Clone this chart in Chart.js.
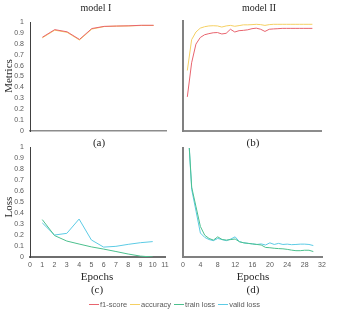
<!DOCTYPE html>
<html>
<head>
<meta charset="utf-8">
<script src="https://cdn.jsdelivr.net/npm/chart.js@4/dist/chart.umd.min.js"></script>
<style>
  html, body { margin: 0; padding: 0; background: #fff; }
  #fig { position: relative; width: 350px; height: 311px; overflow: hidden; }
  canvas.c { position: absolute; left: 0; top: 0; }
  .serif { position: absolute; font-family: "Liberation Serif", "DejaVu Serif", serif; color: #262626; white-space: nowrap; }
  .rot { transform: translate(-50%, -50%) rotate(-90deg); }
  .ctr { transform: translate(-50%, -50%); }
  #legend { position: absolute; left: 0; top: 300px; width: 352px; display: flex; justify-content: center; font-family: "Liberation Sans", Arial, sans-serif; font-size: 7.5px; color: #595959; }
  #legend span.item { display: inline-flex; align-items: center; margin-right: 3px; }
  #legend span.sw { display: inline-block; width: 10px; height: 0; border-top: 1.2px solid #999; margin-right: 1px; }
</style>
</head>
<body>
<div id="fig">
  <canvas class="c" id="ca" width="350" height="311"></canvas>
  <canvas class="c" id="cb" width="350" height="311"></canvas>
  <canvas class="c" id="cc" width="350" height="311"></canvas>
  <canvas class="c" id="cd" width="350" height="311"></canvas>
  <div class="serif ctr" style="left:96px;top:7px;font-size:10px;">model I</div>
  <div class="serif ctr" style="left:259px;top:7px;font-size:10px;">model II</div>
  <div class="serif rot" style="left:8px;top:76px;font-size:11px;">Metrics</div>
  <div class="serif rot" style="left:8px;top:207px;font-size:11px;">Loss</div>
  <div class="serif ctr" style="left:99px;top:142px;font-size:11px;">(a)</div>
  <div class="serif ctr" style="left:253px;top:142px;font-size:11px;">(b)</div>
  <div class="serif ctr" style="left:97px;top:276px;font-size:11px;">Epochs</div>
  <div class="serif ctr" style="left:253px;top:276px;font-size:11px;">Epochs</div>
  <div class="serif ctr" style="left:97px;top:289px;font-size:11px;">(c)</div>
  <div class="serif ctr" style="left:253px;top:289px;font-size:11px;">(d)</div>
  <div id="legend"></div>
</div>
<script>
// ---------- data ----------
const seriesNames = ["f1-score", "accuracy", "train loss", "valid loss"];
const seriesColors = ["#E8646E", "#F5D063", "#4CC08E", "#5CCBE5"];

const epochsI = [1, 2, 3, 4, 5, 6, 7, 8, 9, 10];
const f1I = [0.86, 0.93, 0.91, 0.84, 0.94, 0.96, 0.963, 0.965, 0.97, 0.97];
const accI = [0.855, 0.925, 0.905, 0.835, 0.935, 0.958, 0.962, 0.964, 0.968, 0.968];
const trainLossI = [0.34, 0.195, 0.145, 0.118, 0.092, 0.072, 0.05, 0.027, 0.008, 0.0];
const validLossI = [0.31, 0.2, 0.215, 0.345, 0.155, 0.09, 0.097, 0.115, 0.13, 0.14];

const epochsII = [1, 2, 3, 4, 5, 6, 7, 8, 9, 10, 11, 12, 13, 14, 15, 16, 17, 18, 19, 20, 21, 22, 23, 24, 25, 26, 27, 28, 29, 30];
const f1II = [0.31, 0.62, 0.79, 0.85, 0.875, 0.885, 0.893, 0.895, 0.882, 0.888, 0.925, 0.9, 0.912, 0.915, 0.92, 0.93, 0.935, 0.925, 0.905, 0.925, 0.928, 0.93, 0.933, 0.933, 0.933, 0.933, 0.933, 0.933, 0.933, 0.933];
const accII = [0.55, 0.83, 0.9, 0.935, 0.948, 0.955, 0.957, 0.955, 0.945, 0.955, 0.96, 0.952, 0.958, 0.965, 0.965, 0.967, 0.97, 0.967, 0.96, 0.967, 0.97, 0.97, 0.97, 0.97, 0.97, 0.97, 0.97, 0.97, 0.97, 0.97];
const trainLossII = [1.3, 0.64, 0.46, 0.28, 0.2, 0.17, 0.155, 0.185, 0.16, 0.155, 0.16, 0.165, 0.14, 0.13, 0.125, 0.12, 0.115, 0.11, 0.088, 0.085, 0.08, 0.077, 0.075, 0.07, 0.063, 0.058, 0.058, 0.062, 0.062, 0.05];
const validLossII = [1.3, 0.62, 0.42, 0.22, 0.18, 0.16, 0.15, 0.17, 0.16, 0.15, 0.165, 0.185, 0.14, 0.13, 0.125, 0.12, 0.115, 0.12, 0.11, 0.13, 0.115, 0.125, 0.115, 0.118, 0.113, 0.115, 0.118, 0.118, 0.115, 0.105];

const yTickLabels = ["0", "0.1", "0.2", "0.3", "0.4", "0.5", "0.6", "0.7", "0.8", "0.9", "1"];
const xTickLabelsI = ["0", "1", "2", "3", "4", "5", "6", "7", "8", "9", "10", "11"];
const xTickLabelsII = ["0", "4", "8", "12", "16", "20", "24", "28", "32"];

// ---------- helpers ----------
const tickFont = { family: "'Liberation Sans', Arial, sans-serif", size: 7 };
const tickColor = "#595959";

function pts(xs, ys) { return xs.map((x, i) => ({ x: x, y: ys[i] })); }

function ds(name, xs, ys) {
  const idx = seriesNames.indexOf(name);
  return {
    label: name,
    data: pts(xs, ys),
    borderColor: seriesColors[idx],
    backgroundColor: seriesColors[idx],
    borderWidth: 1,
    pointRadius: 0,
    tension: 0,
    fill: false
  };
}

function makeChart(id, datasets, cfg) {
  const xLabels = cfg.xLabels;
  new Chart(document.getElementById(id), {
    type: "line",
    data: { datasets: datasets },
    options: {
      responsive: false,
      animation: false,
      devicePixelRatio: 1,
      layout: { padding: cfg.padding },
      plugins: { legend: { display: false }, tooltip: { enabled: false }, title: { display: false } },
      scales: {
        x: {
          type: "linear",
          min: cfg.xMin, max: cfg.xMax,
          grid: { display: false, drawTicks: false },
          border: { display: true, color: cfg.xBorderColor, width: cfg.xBorderWidth },
          ticks: {
            display: !!xLabels,
            stepSize: cfg.xStep,
            autoSkip: false,
            maxRotation: 0,
            padding: 4,
            font: tickFont,
            color: tickColor,
            callback: function (v, i) { return xLabels ? xLabels[i] : ""; }
          },
          afterFit: function (s) { s.height = cfg.xHeight; }
        },
        y: {
          type: "linear",
          min: 0, max: 1,
          grid: { display: false, drawTicks: false },
          border: { display: true, color: cfg.yBorderColor, width: cfg.yBorderWidth },
          ticks: {
            display: !!cfg.yLabels,
            stepSize: 0.1,
            autoSkip: false,
            padding: 6,
            font: tickFont,
            color: tickColor,
            callback: function (v, i) { return cfg.yLabels ? cfg.yLabels[i] : ""; }
          },
          afterFit: function (s) { s.width = cfg.yWidth; }
        }
      }
    }
  });
}

// (a) model I metrics
makeChart("ca", [ds("f1-score", epochsI, f1I), ds("accuracy", epochsI, accI)], {
  padding: { left: 0, top: 22, right: 184, bottom: 180 },
  xMin: 0, xMax: 11, xStep: 1, xLabels: null, xHeight: 0,
  yLabels: yTickLabels, yWidth: 30,
  xBorderColor: "#8c8c8c", xBorderWidth: 1.5,
  yBorderColor: "#404040", yBorderWidth: 1
});

// (b) model II metrics
makeChart("cb", [ds("f1-score", epochsII, f1II), ds("accuracy", epochsII, accII)], {
  padding: { left: 183, top: 21, right: 29, bottom: 180 },
  xMin: 0, xMax: 32, xStep: 4, xLabels: null, xHeight: 0,
  yLabels: null, yWidth: 0,
  xBorderColor: "#8c8c8c", xBorderWidth: 2,
  yBorderColor: "#808080", yBorderWidth: 2
});

// (c) model I loss
makeChart("cc", [ds("train loss", epochsI, trainLossI), ds("valid loss", epochsI, validLossI)], {
  padding: { left: 0, top: 147, right: 185, bottom: 42 },
  xMin: 0, xMax: 11, xStep: 1, xLabels: xTickLabelsI, xHeight: 12,
  yLabels: yTickLabels, yWidth: 30,
  xBorderColor: "#6e6e6e", xBorderWidth: 2,
  yBorderColor: "#404040", yBorderWidth: 1
});

// (d) model II loss
makeChart("cd", [ds("train loss", epochsII, trainLossII), ds("valid loss", epochsII, validLossII)], {
  padding: { left: 183, top: 148, right: 28, bottom: 42 },
  xMin: 0, xMax: 32, xStep: 4, xLabels: xTickLabelsII, xHeight: 12,
  yLabels: null, yWidth: 0,
  xBorderColor: "#808080", xBorderWidth: 2,
  yBorderColor: "#808080", yBorderWidth: 2
});

// legend
const lg = document.getElementById("legend");
seriesNames.forEach(function (n, i) {
  const it = document.createElement("span");
  it.className = "item";
  const sw = document.createElement("span");
  sw.className = "sw";
  sw.style.borderTopColor = seriesColors[i];
  it.appendChild(sw);
  it.appendChild(document.createTextNode(n));
  lg.appendChild(it);
});
</script>
</body>
</html>
